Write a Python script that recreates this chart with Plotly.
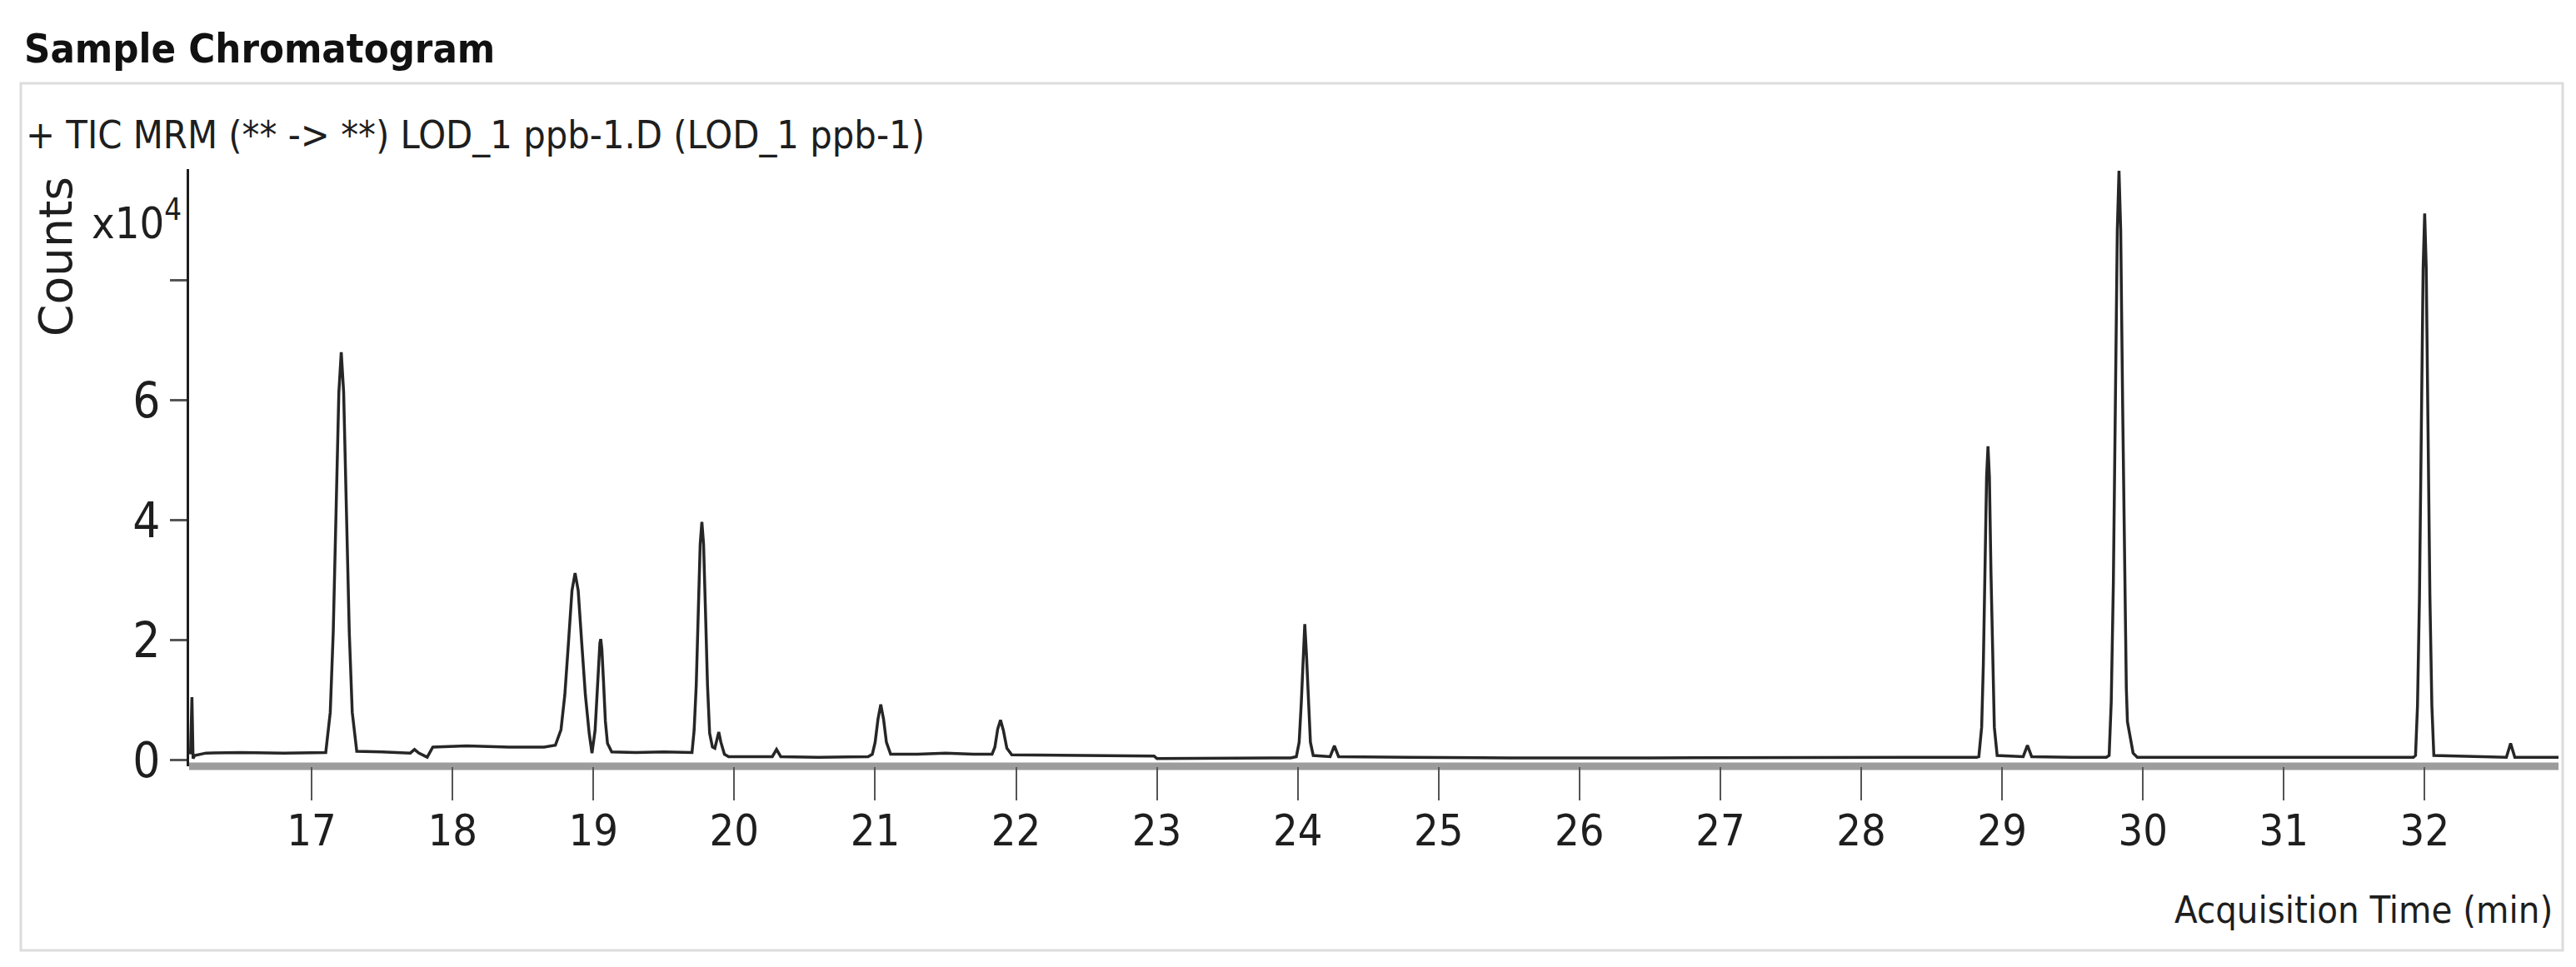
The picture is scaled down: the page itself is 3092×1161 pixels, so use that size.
import plotly.graph_objects as go

# ---------------- data ----------------
time_min = [
    16.14, 16.15, 16.158, 16.17, 16.25, 16.5, 16.8, 17.0,
    17.10, 17.132, 17.153, 17.173, 17.193, 17.21, 17.227, 17.247, 17.267, 17.288, 17.32,
    17.5, 17.70, 17.73, 17.76, 17.82, 17.86, 18.1, 18.4, 18.65, 18.73,
    18.77, 18.797, 18.823, 18.848, 18.87, 18.892, 18.917, 18.943, 18.97, 18.99,
    19.012, 19.025, 19.036, 19.046, 19.052, 19.060, 19.072, 19.085, 19.10, 19.13,
    19.3, 19.5, 19.7,
    19.715, 19.730, 19.744, 19.758, 19.770, 19.782, 19.796, 19.810, 19.825, 19.845,
    19.862, 19.878, 19.89, 19.905, 19.93, 19.96,
    20.1, 20.27, 20.30, 20.33, 20.6, 20.95,
    20.98, 21.00, 21.02, 21.04, 21.06, 21.08, 21.11,
    21.3, 21.5, 21.7, 21.83, 21.85, 21.87, 21.89, 21.91, 21.935, 21.97,
    22.3, 22.7, 22.98, 23.0, 23.5, 23.95,
    23.99, 24.01, 24.025, 24.038, 24.05, 24.062, 24.075, 24.09, 24.11,
    24.23, 24.26, 24.29, 24.8, 25.5, 26.5, 27.5, 28.4, 28.82,
    28.835, 28.855, 28.867, 28.879, 28.89, 28.90, 28.91, 28.921, 28.933, 28.945, 28.965,
    29.15, 29.18, 29.21, 29.5, 29.74,
    29.76, 29.775, 29.79, 29.804, 29.818, 29.83, 29.842, 29.856, 29.87, 29.882,
    29.89, 29.905, 29.93, 29.96,
    30.5, 31.0, 31.5, 31.92,
    31.935, 31.949, 31.963, 31.976, 31.989, 32.0, 32.011, 32.024, 32.037, 32.051, 32.065,
    32.58, 32.61, 32.64, 32.95,
]
counts_e4 = [
    0.10, 1.05, 0.03, 0.08, 0.12, 0.13, 0.12, 0.13,
    0.13, 0.80, 2.13, 4.13, 6.13, 6.80, 6.13, 4.13, 2.13, 0.80, 0.15,
    0.14, 0.12, 0.18, 0.12, 0.05, 0.22, 0.24, 0.22, 0.22, 0.25,
    0.51, 1.09, 1.96, 2.83, 3.12, 2.83, 1.96, 1.09, 0.45, 0.12,
    0.50, 1.10, 1.60, 1.95, 2.02, 1.85, 1.30, 0.65, 0.28, 0.14,
    0.13, 0.14, 0.13,
    0.50, 1.25, 2.45, 3.60, 3.97, 3.60, 2.45, 1.25, 0.45, 0.22,
    0.20, 0.38, 0.47, 0.30, 0.10, 0.06,
    0.06, 0.06, 0.18, 0.06, 0.05, 0.06,
    0.10, 0.30, 0.68, 0.93, 0.68, 0.30, 0.10,
    0.10, 0.12, 0.10, 0.10, 0.22, 0.52, 0.67, 0.50, 0.20, 0.09,
    0.08, 0.07, 0.07, 0.03, 0.04, 0.04,
    0.06, 0.30, 0.95, 1.75, 2.27, 1.75, 0.95, 0.30, 0.08,
    0.06, 0.24, 0.06, 0.05, 0.04, 0.04, 0.04, 0.05, 0.05,
    0.06, 0.55, 1.60, 3.15, 4.72, 5.23, 4.72, 3.15, 1.60, 0.55, 0.08,
    0.06, 0.25, 0.06, 0.05, 0.05,
    0.08, 0.98, 2.95, 5.90, 8.84, 9.82, 8.84, 5.90, 2.95, 1.20,
    0.64, 0.45, 0.12, 0.05,
    0.05, 0.05, 0.05, 0.05,
    0.08, 0.91, 2.73, 5.47, 8.20, 9.11, 8.20, 5.47, 2.73, 0.91, 0.08,
    0.05, 0.28, 0.05, 0.05,
]
x_tick_vals = [17, 18, 19, 20, 21, 22, 23, 24, 25, 26, 27, 28, 29, 30, 31, 32]
x_tick_text = [str(v) for v in x_tick_vals]
y_tick_vals = [0, 2, 4, 6]
y_tick_text = ["0", "2", "4", "6"]
y_unlabeled_ticks = [8]

title_text = "Sample Chromatogram"
subtitle_text = "+ TIC MRM (** -&gt; **) LOD_1 ppb-1.D (LOD_1 ppb-1)"
y_title = "Counts"
y_scale_text = "x10<sup>4</sup>"
x_title = "Acquisition Time (min)"

# ---------------- layout geometry (pixels) ----------------
W, H = 3092, 1161
PL, PR, PT, PB = 219, 3063, 195, 912   # plot area edges in page pixels
PW, PH = PR - PL, PB - PT


def px(x):
    return (x - PL) / PW


def py(y):
    return (PB - y) / PH


NARROW = "Liberation Sans Narrow, Arial Narrow, DejaVu Sans Condensed, sans-serif"
WIDE = "DejaVu Sans, Verdana, sans-serif"
TXT = "#1e1e1e"

fig = go.Figure()
fig.add_trace(go.Scatter(
    x=time_min, y=counts_e4, mode="lines",
    line=dict(color="#262626", width=3.5),
    hoverinfo="skip", showlegend=False,
))

fig.update_layout(
    width=W, height=H, autosize=False,
    margin=dict(l=PL, r=W - PR, t=PT, b=H - PB, pad=0),
    paper_bgcolor="white", plot_bgcolor="white",
    font=dict(family=NARROW, size=50, color=TXT),
    xaxis=dict(
        range=[16.13, 32.95], showgrid=False, zeroline=False, showline=False,
        tickmode="array", tickvals=x_tick_vals, ticktext=x_tick_text,
        ticks="outside", ticklen=40, tickwidth=2, tickcolor="#555555",
        tickfont=dict(family=NARROW, size=52, color=TXT),
        ticklabelstandoff=-8,
    ),
    yaxis=dict(
        range=[-0.1, 9.85], showgrid=False, zeroline=False,
        showline=True, linecolor=TXT, linewidth=3,
        tickmode="array", tickvals=y_tick_vals, ticktext=y_tick_text,
        ticks="outside", ticklen=20, tickwidth=3, tickcolor="#555555",
        tickfont=dict(family=NARROW, size=58, color=TXT),
        minor=dict(tickmode="array", tickvals=y_unlabeled_ticks, ticks="outside",
                   ticklen=20, tickwidth=3, tickcolor="#555555", showgrid=False),
    ),
    shapes=[
        # outer frame
        dict(type="rect", xref="paper", yref="paper",
             x0=px(17), x1=px(3068), y0=py(1133), y1=py(92),
             line=dict(color="#dcdcdc", width=3), fillcolor="rgba(0,0,0,0)", layer="below"),
        # grey x-axis band
        dict(type="line", xref="paper", yref="paper",
             x0=0, x1=1, y0=py(912), y1=py(912),
             line=dict(color="#9c9c9c", width=9), layer="below"),
    ],
    annotations=[
        dict(text="<b>" + title_text + "</b>", xref="paper", yref="paper",
             x=px(19), y=py(50), xanchor="left", yanchor="middle", showarrow=False,
             font=dict(family=NARROW, size=48.5, color="#111111")),
        dict(text=subtitle_text, xref="paper", yref="paper",
             x=px(21), y=py(154), xanchor="left", yanchor="middle", showarrow=False,
             font=dict(family=NARROW, size=46.5, color=TXT)),
        dict(text=y_title, xref="paper", yref="paper", textangle=-90,
             x=px(59), y=py(300), xanchor="center", yanchor="middle", showarrow=False,
             font=dict(family=WIDE, size=55, color=TXT)),
        dict(text=y_scale_text, xref="paper", yref="paper",
             x=px(100), y=py(256), xanchor="left", yanchor="middle", showarrow=False,
             font=dict(family=NARROW, size=52, color=TXT)),
        dict(text=x_title, xref="paper", yref="paper",
             x=px(3058), y=py(1084), xanchor="right", yanchor="middle", showarrow=False,
             font=dict(family=NARROW, size=45, color=TXT)),
    ],
)

fig.write_html("out.html")
